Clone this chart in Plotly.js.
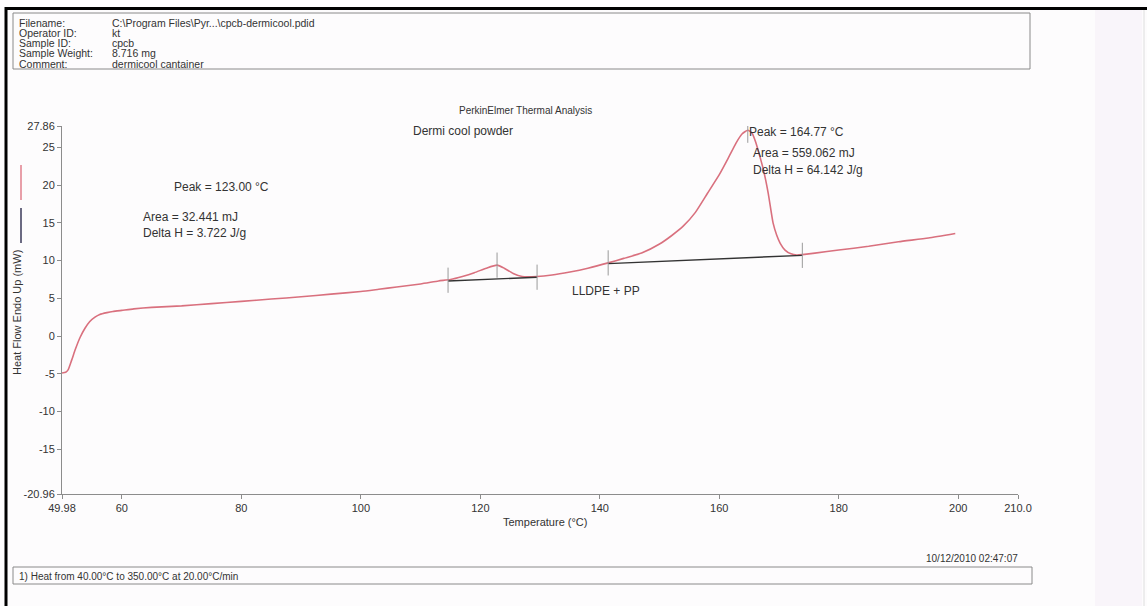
<!DOCTYPE html>
<html>
<head>
<meta charset="utf-8">
<script src="https://cdn.plot.ly/plotly-3.0.1.min.js"></script>
<style>html,body{margin:0;padding:0;background:#fdfcfd;}#chart{width:1147px;height:606px;}</style>
</head>
<body>
<div id="chart"></div>
<script>
// ---- data ----
var temperature = [49.98,50.6,51.0,51.6,52.2,53.0,53.8,54.6,55.5,56.3,57.5,58.5,60,62,65,70,75,80,85,90,95,100,103,106,110,113,115,117,119,121,122.8,124,125.5,127,129.5,132,135,138,141.4,144,147,150,152,154,156,158,160,161.5,162.8,163.8,164.77,165.5,166.1,166.8,167.4,168.2,169.0,169.6,170.2,171.0,172.0,173.0,173.9,176,180,185,190,195,199.5];
var heatFlow = [-4.9,-4.8,-4.5,-3.2,-1.8,-0.2,1.0,1.9,2.5,2.85,3.1,3.25,3.4,3.6,3.8,4.0,4.3,4.6,4.9,5.2,5.55,5.9,6.2,6.5,6.9,7.3,7.5,7.9,8.4,9.0,9.4,9.0,8.3,7.9,7.9,8.1,8.5,9.0,9.7,10.3,11.0,12.2,13.3,14.6,16.4,18.9,21.4,23.6,25.6,26.8,27.3,26.9,25.7,23.8,22.0,18.9,15.0,13.4,12.3,11.4,10.9,10.75,10.8,11.0,11.4,11.9,12.5,13.0,13.6];
var baseline1T = [114.6, 129.5];
var baseline1V = [7.3, 7.8];
var baseline2T = [141.4, 173.9];
var baseline2V = [9.6, 10.7];
var markerT = [114.6, 122.8, 129.5, 141.4, 164.77, 173.9];
var markerV = [7.4, 9.4, 7.8, 9.7, 27.3, 10.7];
var xTickVals = [49.98, 60, 80, 100, 120, 140, 160, 180, 200, 210];
var xTickText = ["49.98", "60", "80", "100", "120", "140", "160", "180", "200", "210.0"];
var yTickVals = [-20.96, -15, -10, -5, 0, 5, 10, 15, 20, 25, 27.86];
var yTickText = ["-20.96", "-15", "-10", "-5", "0", "5", "10", "15", "20", "25", "27.86"];
var headerLabels = ["Filename:", "Operator ID:", "Sample ID:", "Sample Weight:", "Comment:"];
var headerValues = ["C:\\Program Files\\Pyr...\\cpcb-dermicool.pdid", "kt", "cpcb", "8.716 mg", "dermicool cantainer"];

// ---- layout helpers (pixel -> paper) ----
var W = 1147, H = 606, L = 62, R = 1018, T = 126, B = 494;
function px(x){ return (x - L) / (R - L); }
function py(y){ return (B - y) / (B - T); }
var FONT = "Liberation Sans, Arial, sans-serif";
var TXT = "#333333";

var traces = [
  {x: temperature, y: heatFlow, mode: "lines", line: {color: "#d9707e", width: 1.6, shape: "spline", smoothing: 0.5}, hoverinfo: "skip"},
  {x: baseline1T, y: baseline1V, mode: "lines", line: {color: "#333333", width: 1.4}, hoverinfo: "skip"},
  {x: baseline2T, y: baseline2V, mode: "lines", line: {color: "#333333", width: 1.4}, hoverinfo: "skip"},
  {x: markerT, y: markerV, mode: "markers", marker: {symbol: "line-ns", size: 18, line: {color: "#9a9a9a", width: 1}}, hoverinfo: "skip"}
];

var ann = [];
function addText(text, x, y, size, xanchor, opts){
  var a = {text: text, xref: "paper", yref: "paper", x: px(x), y: py(y), xanchor: xanchor || "left", yanchor: "middle",
    showarrow: false, font: {family: FONT, size: size, color: TXT}};
  if (opts) for (var k in opts) a[k] = opts[k];
  ann.push(a);
}
for (var i = 0; i < headerLabels.length; i++) {
  addText(headerLabels[i], 17, 22.5 + i * 10.3, 10.5, "left");
  addText(headerValues[i], 110, 22.5 + i * 10.3, 10.5, "left");
}
addText("PerkinElmer Thermal Analysis", 525, 110, 10, "center");
addText("Dermi cool powder", 411, 131, 12, "left");
addText("Peak = 123.00 °C", 172, 187, 12, "left");
addText("Area = 32.441 mJ", 141, 217, 12, "left");
addText("Delta H = 3.722 J/g", 141, 233, 12, "left");
addText("Peak = 164.77 °C", 747, 132, 12, "left");
addText("Area = 559.062 mJ", 751, 153, 12, "left");
addText("Delta H = 64.142 J/g", 751, 170, 12, "left");
addText("LLDPE + PP", 570, 291, 12, "left");
addText("Temperature (°C)", 545, 522, 11, "center");
addText("Heat Flow Endo Up (mW)", 17, 313, 11, "center", {textangle: -90});
addText("10/12/2010 02:47:07", 1020, 558, 10, "right");
addText("1) Heat from 40.00°C to 350.00°C at 20.00°C/min", 17, 576, 10, "left");

function rect(x0, y0, x1, y1, lineColor, fill, w){
  return {type: "rect", xref: "paper", yref: "paper", x0: px(x0), x1: px(x1), y0: py(y0), y1: py(y1),
    line: {color: lineColor, width: w === undefined ? 1 : w}, fillcolor: fill || "rgba(0,0,0,0)", layer: "below"};
}
function seg(x0, y0, x1, y1, color, w){
  return {type: "line", xref: "paper", yref: "paper", x0: px(x0), x1: px(x1), y0: py(y0), y1: py(y1), line: {color: color, width: w}};
}
var shapes = [
  rect(1095, 10, 1142, 606, "rgba(0,0,0,0)", "rgba(246,238,248,0.5)", 0),
  rect(13, 13, 1030, 69, "#8a8a8a", null, 1),
  rect(13, 567, 1032, 584, "#8a8a8a", null, 1),
  seg(5, 8.5, 1147, 8.5, "#000000", 3),
  seg(6, 7, 6, 606, "#000000", 3),
  seg(1144, 10, 1144, 606, "#dedede", 1),
  seg(21, 165, 21, 200, "#e0808c", 1.5),
  seg(21, 208, 21, 243, "#3a3a58", 1.5)
];

var layout = {
  width: W, height: H,
  margin: {l: L, r: W - R, t: T, b: H - B, pad: 0},
  paper_bgcolor: "#fdfcfd", plot_bgcolor: "rgba(0,0,0,0)",
  showlegend: false,
  font: {family: FONT, size: 11, color: TXT},
  xaxis: {range: [49.98, 210], tickvals: xTickVals, ticktext: xTickText, showgrid: false, zeroline: false,
    showline: true, linecolor: "#8c8c8c", linewidth: 1, ticks: "outside", ticklen: 4, tickcolor: "#8c8c8c",
    tickfont: {family: FONT, size: 11, color: TXT}},
  yaxis: {range: [-20.96, 27.86], tickvals: yTickVals, ticktext: yTickText, showgrid: false, zeroline: false,
    showline: true, linecolor: "#8c8c8c", linewidth: 1, ticks: "outside", ticklen: 4, tickcolor: "#8c8c8c",
    tickfont: {family: FONT, size: 11, color: TXT}},
  annotations: ann,
  shapes: shapes
};
Plotly.newPlot("chart", traces, layout, {staticPlot: true, displayModeBar: false});
</script>
</body>
</html>
